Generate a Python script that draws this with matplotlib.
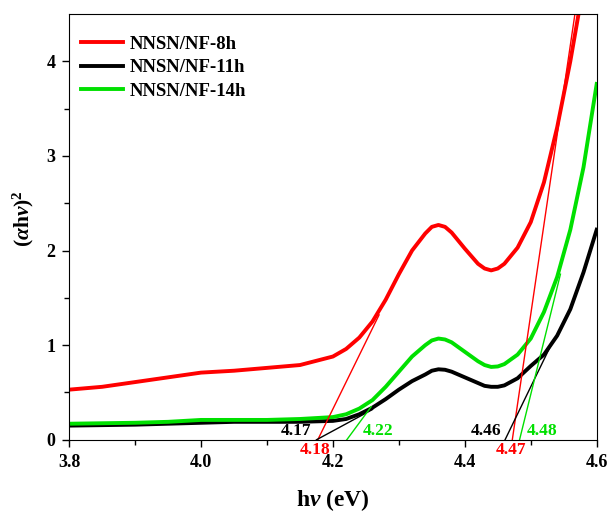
import matplotlib
matplotlib.use("Agg")
import matplotlib.pyplot as plt
from matplotlib.ticker import FormatStrFormatter

plt.rcParams["font.family"] = ["Liberation Serif", "DejaVu Serif"]
plt.rcParams["font.weight"] = "bold"
plt.rcParams["mathtext.fontset"] = "custom"
plt.rcParams["mathtext.rm"] = "Liberation Serif:bold"
plt.rcParams["mathtext.it"] = "Liberation Serif:italic:bold"
plt.rcParams["mathtext.bf"] = "Liberation Serif:bold"

energy = [3.80, 3.85, 3.90, 3.95, 4.00, 4.05, 4.10, 4.15, 4.20, 4.22, 4.24,
          4.26, 4.28, 4.30, 4.32, 4.34, 4.35, 4.36, 4.37, 4.38, 4.40, 4.42,
          4.43, 4.44, 4.45, 4.46, 4.48, 4.50, 4.52, 4.54, 4.56, 4.58, 4.60]
nf_8h = [0.53, 0.56, 0.61, 0.66, 0.71, 0.73, 0.76, 0.79, 0.88, 0.96, 1.08,
         1.25, 1.48, 1.75, 2.00, 2.18, 2.25, 2.27, 2.25, 2.19, 2.02, 1.86,
         1.81, 1.79, 1.81, 1.86, 2.03, 2.30, 2.72, 3.30, 4.00, 4.80, 5.60]
nf_11h = [0.15, 0.155, 0.16, 0.17, 0.18, 0.19, 0.19, 0.19, 0.20, 0.22, 0.27,
          0.34, 0.43, 0.53, 0.62, 0.69, 0.73, 0.745, 0.74, 0.72, 0.66, 0.60,
          0.57, 0.56, 0.56, 0.575, 0.65, 0.78, 0.90, 1.10, 1.38, 1.77, 2.22]
nf_14h = [0.17, 0.175, 0.18, 0.19, 0.21, 0.21, 0.21, 0.22, 0.24, 0.27, 0.33,
          0.42, 0.56, 0.72, 0.88, 1.00, 1.05, 1.07, 1.06, 1.03, 0.93, 0.83,
          0.79, 0.77, 0.775, 0.80, 0.90, 1.07, 1.35, 1.72, 2.22, 2.88, 3.76]

labels = ["NNSN/NF-8h", "NNSN/NF-11h", "NNSN/NF-14h"]
colors = ["#ff0000", "#000000", "#00e000"]

# tangent lines (x0, y0, x1, y1) and the curve they belong to
tangents = [
    ((4.177, 0.0, 4.27, 1.32), 0),
    ((4.472, 0.0, 4.567, 4.5), 0),
    ((4.175, 0.0, 4.26, 0.32), 1),
    ((4.461, 0.0, 4.532, 1.02), 1),
    ((4.221, 0.0, 4.258, 0.35), 2),
    ((4.483, 0.0, 4.545, 1.75), 2),
]
gap_text = ["4.18", "4.47", "4.17", "4.46", "4.22", "4.48"]
gap_pos = [(4.173, -0.11), (4.47, -0.11), (4.144, 0.095), (4.432, 0.095),
           (4.268, 0.095), (4.517, 0.095)]
gap_color = [0, 0, 1, 1, 2, 2]

fig = plt.figure(figsize=(6.12, 5.15), dpi=100)
ax = fig.add_axes([0.113, 0.146, 0.862, 0.827])

for y, lab, c in zip([nf_8h, nf_11h, nf_14h], labels, colors):
    ax.plot(energy, y, color=c, lw=2.8, label=lab)

for (x0, y0, x1, y1), ci in tangents:
    ax.plot([x0, x1], [y0, y1], color=colors[ci], lw=1.0)

for t, (xt, yt), ci in zip(gap_text, gap_pos, gap_color):
    ax.text(xt, yt, t, color=colors[ci], fontsize=12.5, fontweight="bold",
            ha="center", va="center", clip_on=False)

ax.set_xlim(3.8, 4.6)
ax.set_ylim(0, 4.5)
ax.set_xticks([3.8, 4.0, 4.2, 4.4, 4.6])
ax.set_xticks([3.9, 4.1, 4.3, 4.5], minor=True)
ax.set_yticks([0, 1, 2, 3, 4])
ax.set_yticks([0.5, 1.5, 2.5, 3.5], minor=True)
ax.tick_params(which="major", length=5, width=1, labelsize=13, pad=5)
ax.tick_params(which="minor", length=3.5, width=1)
for lab in ax.get_xticklabels() + ax.get_yticklabels():
    lab.set_fontweight("bold")
ax.xaxis.set_major_formatter(FormatStrFormatter("%.1f"))

ax.set_xlabel(r"h$\nu$ (eV)", fontsize=17, fontweight="bold")
ax.xaxis.set_label_coords(0.5, -0.112)
ax.set_ylabel(r"($\alpha$h$\nu$)$^2$", fontsize=15.5, fontweight="bold")
ax.yaxis.set_label_coords(-0.062, 0.52)

ax.legend(loc="upper left", bbox_to_anchor=(0.008, 0.966), frameon=False,
          handlelength=2.25, handletextpad=0.35, labelspacing=0.33,
          borderaxespad=0.0, prop={"weight": "bold", "size": 13.5})

fig.savefig("out.png", dpi=100)
